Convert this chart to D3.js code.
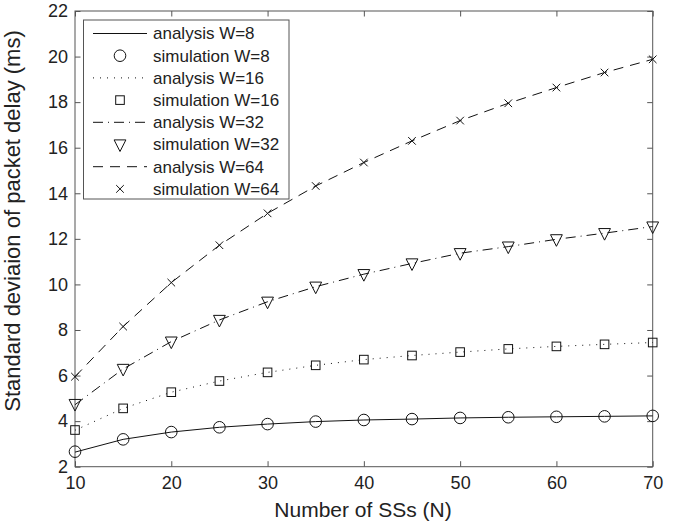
<!DOCTYPE html>
<html>
<head>
<meta charset="utf-8">
<script src="https://cdn.jsdelivr.net/npm/d3@7"></script>
<style>
  body { margin: 0; background: #fff; }
  svg { display: block; font-family: "Liberation Sans", Arial, Helvetica, sans-serif; }
</style>
</head>
<body>
<div id="chart"></div>
<script>
// values
var N = [10, 15, 20, 25, 30, 35, 40, 45, 50, 55, 60, 65, 70];

var analysis8  = [2.64, 3.20, 3.52, 3.73, 3.87, 3.98, 4.05, 4.09, 4.14, 4.17, 4.19, 4.21, 4.23];
var sim8       = [2.66, 3.20, 3.52, 3.73, 3.87, 3.98, 4.05, 4.09, 4.14, 4.17, 4.19, 4.21, 4.23];
var analysis16 = [3.60, 4.56, 5.27, 5.76, 6.14, 6.45, 6.70, 6.88, 7.03, 7.17, 7.28, 7.37, 7.45];
var sim16      = [3.61, 4.56, 5.27, 5.76, 6.14, 6.45, 6.70, 6.88, 7.03, 7.17, 7.28, 7.37, 7.45];
var analysis32 = [4.72, 6.29, 7.49, 8.44, 9.24, 9.90, 10.45, 10.92, 11.37, 11.66, 11.98, 12.25, 12.54];
var sim32      = [4.75, 6.29, 7.49, 8.44, 9.24, 9.90, 10.45, 10.92, 11.37, 11.66, 11.98, 12.25, 12.54];
var analysis64 = [5.95, 8.15, 10.08, 11.72, 13.12, 14.32, 15.35, 16.30, 17.19, 17.95, 18.64, 19.30, 19.88];
var sim64      = [5.95, 8.15, 10.08, 11.72, 13.12, 14.32, 15.35, 16.30, 17.19, 17.95, 18.64, 19.30, 19.88];

var xTicks = [10, 20, 30, 40, 50, 60, 70];
var yTicks = [2, 4, 6, 8, 10, 12, 14, 16, 18, 20, 22];

var legendLabels = ['analysis W=8', 'simulation W=8', 'analysis W=16', 'simulation W=16',
                    'analysis W=32', 'simulation W=32', 'analysis W=64', 'simulation W=64'];

var W = 675, H = 525;
var margin = {top: 11, right: 22.3, bottom: 58.3, left: 75};
var axisColor = '#555';

var svg = d3.select('#chart').append('svg')
    .attr('width', W)
    .attr('height', H);

var x = d3.scaleLinear().domain([10, 70]).range([margin.left, W - margin.right]);
var y = d3.scaleLinear().domain([2, 22]).range([H - margin.bottom, margin.top]);

// axes (ticks inside, mirrored on top/right like matlab)
var tickLen = 5.5;
function styleAxis(g) {
    g.select('.domain').remove();
    g.selectAll('.tick line').attr('stroke', axisColor);
    g.selectAll('.tick text').attr('fill', '#222').style('font-size', '18px');
}
svg.append('g')
    .attr('transform', 'translate(0,' + (H - margin.bottom) + ')')
    .call(d3.axisBottom(x).tickValues(xTicks).tickSize(-tickLen).tickPadding(10))
    .call(styleAxis);
svg.append('g')
    .attr('transform', 'translate(' + margin.left + ',0)')
    .call(d3.axisLeft(y).tickValues(yTicks).tickSize(-tickLen).tickPadding(7))
    .call(styleAxis);
svg.append('g')
    .attr('transform', 'translate(0,' + margin.top + ')')
    .call(d3.axisTop(x).tickValues(xTicks).tickSize(-tickLen).tickFormat(''))
    .call(styleAxis);
svg.append('g')
    .attr('transform', 'translate(' + (W - margin.right) + ',0)')
    .call(d3.axisRight(y).tickValues(yTicks).tickSize(-tickLen).tickFormat(''))
    .call(styleAxis);

svg.append('rect')
    .attr('x', margin.left).attr('y', margin.top)
    .attr('width', W - margin.left - margin.right)
    .attr('height', H - margin.top - margin.bottom)
    .attr('fill', 'none')
    .attr('stroke', axisColor)
    .attr('stroke-width', 1);

// axis labels
svg.append('text')
    .attr('x', 363).attr('y', 517)
    .attr('text-anchor', 'middle')
    .attr('fill', '#222')
    .style('font-size', '21px')
    .text('Number of SSs (N)');
svg.append('text')
    .attr('transform', 'translate(20,221) rotate(-90)')
    .attr('text-anchor', 'middle')
    .attr('fill', '#222')
    .style('font-size', '22px')
    .text('Standard deviaion of packet delay (ms)');

// series
var dashes = ['none', '1,6', '10,5,1,5', '10,7'];
var analysis = [analysis8, analysis16, analysis32, analysis64];
var sims = [sim8, sim16, sim32, sim64];
var markers = ['circle', 'square', 'triangle', 'cross'];

var line = d3.line()
    .x((d, i) => x(N[i]))
    .y(d => y(d));

function drawMarker(g, type, cx, cy) {
    if (type === 'circle') {
        g.append('circle').attr('cx', cx).attr('cy', cy).attr('r', 5.8);
    } else if (type === 'square') {
        g.append('rect').attr('x', cx - 4.3).attr('y', cy - 4.3).attr('width', 8.6).attr('height', 8.6);
    } else if (type === 'triangle') {
        g.append('path').attr('d', 'M' + (cx - 5.9) + ',' + (cy - 4.6) + 'L' + (cx + 5.9) + ',' + (cy - 4.6) +
            'L' + cx + ',' + (cy + 7) + 'Z');
    } else {
        g.append('path').attr('d', 'M' + (cx - 3.8) + ',' + (cy - 3.8) + 'L' + (cx + 3.8) + ',' + (cy + 3.8) +
            'M' + (cx - 3.8) + ',' + (cy + 3.8) + 'L' + (cx + 3.8) + ',' + (cy - 3.8));
    }
}

var plot = svg.append('g');
analysis.forEach((s, k) => {
    plot.append('path')
        .attr('d', line(s))
        .attr('fill', 'none')
        .attr('stroke', '#111')
        .attr('stroke-width', 1)
        .attr('stroke-dasharray', dashes[k]);
    var mg = plot.append('g').attr('fill', 'none').attr('stroke', '#111').attr('stroke-width', 1);
    sims[k].forEach((v, i) => drawMarker(mg, markers[k], x(N[i]), y(v)));
});

// legend
var lg = svg.append('g');
lg.append('rect')
    .attr('x', 83.5).attr('y', 20)
    .attr('width', 205.5).attr('height', 179)
    .attr('fill', '#fff')
    .attr('stroke', axisColor)
    .attr('stroke-width', 1);
legendLabels.forEach((label, i) => {
    var cy = 33.5 + i * 22.2;
    var k = Math.floor(i / 2);
    if (i % 2 === 0) {
        lg.append('line')
            .attr('x1', 93).attr('x2', 147)
            .attr('y1', cy).attr('y2', cy)
            .attr('stroke', '#111')
            .attr('stroke-width', 1)
            .attr('stroke-dasharray', dashes[k]);
    } else {
        var mg = lg.append('g').attr('fill', 'none').attr('stroke', '#111').attr('stroke-width', 1);
        drawMarker(mg, markers[k], 120, cy);
    }
    lg.append('text')
        .attr('x', 153).attr('y', cy)
        .attr('dy', '0.35em')
        .attr('fill', '#222')
        .style('font-size', '17px')
        .text(label);
});
</script>
</body>
</html>
